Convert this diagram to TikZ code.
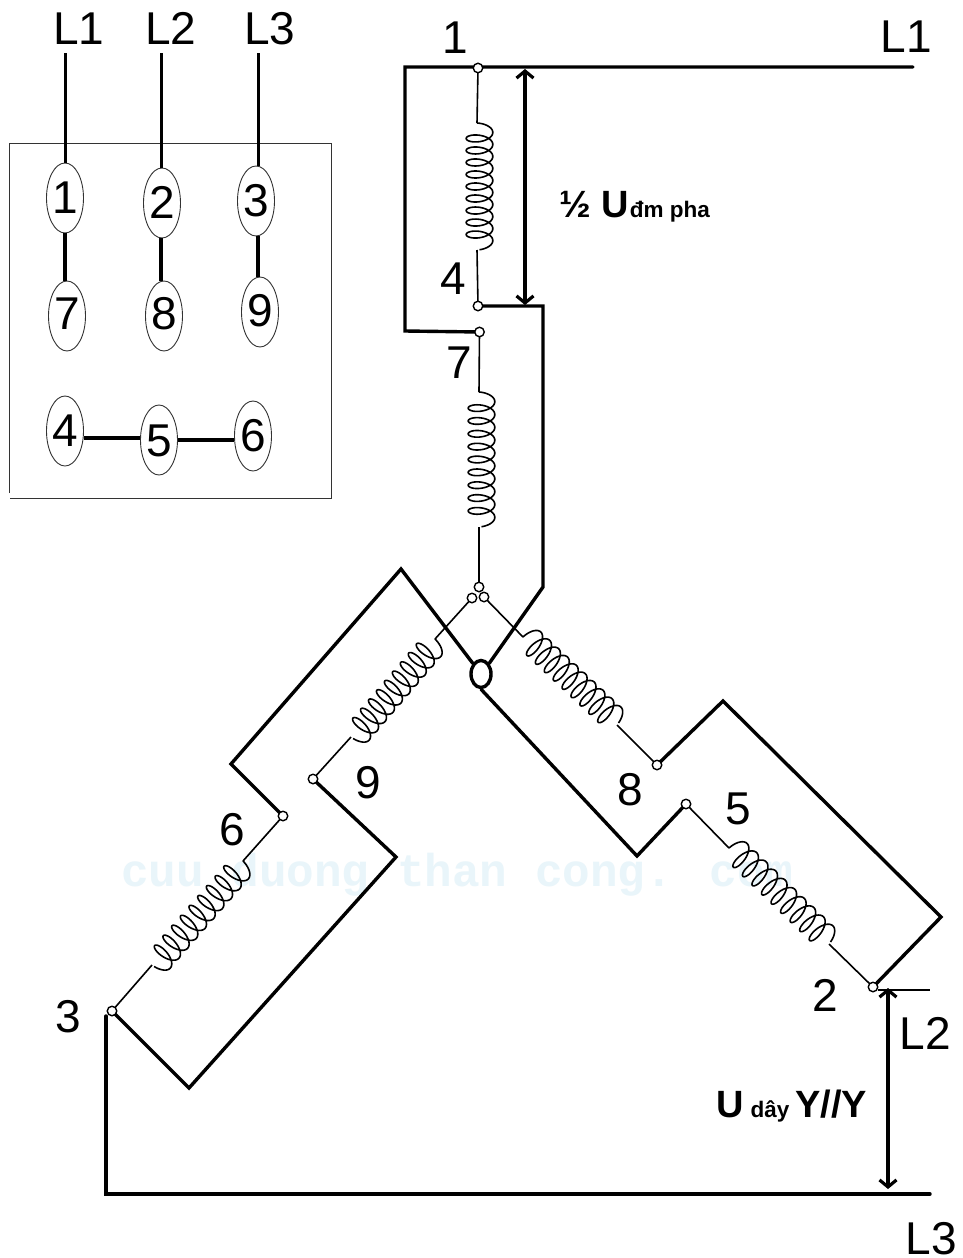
\documentclass[tikz,border=0pt]{standalone}
\usepackage{fontspec}
\setmainfont{Liberation Sans}
\newfontfamily\wmfont{Liberation Mono}
\usetikzlibrary{shapes.geometric,arrows.meta}
\definecolor{wm}{HTML}{E9F5FA}
\tikzset{
  thick wire/.style={line width=3.4pt,line cap=round,line join=miter},
  thin wire/.style={line width=1.6pt},
  term/.style={circle,draw=black,fill=white,line width=1.4pt,minimum size=9.5pt,inner sep=0pt},
  port/.style={ellipse,draw=black!80,line width=0.9pt,minimum width=37pt,minimum height=70pt,inner sep=0pt,text height=32pt,text depth=2pt,font=\fontsize{46}{46}\selectfont},
  lbl/.style={inner sep=0pt,text height=32pt,text depth=0pt,font=\fontsize{46}{46}\selectfont},
  dim/.style={line width=3.2pt,{Straight Barb[length=7pt,width=17pt,line width=3.2pt]}-{Straight Barb[length=7pt,width=17pt,line width=3.2pt]}},
  bold lbl/.style={inner sep=0pt,anchor=base west,font=\bfseries\fontsize{38}{38}\selectfont},
}
\newcommand{\smb}[1]{{\fontsize{22.5}{22.5}\selectfont #1}}
% \coilpath{xa}{ya}{xb}{yb}: helical winding between two points
\newcommand{\coilpath}[4]{%
  \pgfmathsetmacro{\cL}{veclen(#3-#1,#4-#2)}%
  \pgfmathsetmacro{\cax}{(#3-#1)/\cL}%
  \pgfmathsetmacro{\cay}{(#4-#2)/\cL}%
  \pgfmathsetmacro{\cp}{(\cL-1.964*6.2)/9.56}%
  \draw[thin wire,smooth] plot[samples=520,domain=-1.7608:58.12,variable=\t]
    ({#1+\cax*(\cp*(\t+1.7608)/6.2832+6.2*(sin(\t r)+0.982))+\cay*(2.5+13.3*cos(\t r))},
     {#2+\cay*(\cp*(\t+1.7608)/6.2832+6.2*(sin(\t r)+0.982))-\cax*(2.5+13.3*cos(\t r))});
}
\begin{document}
\begin{tikzpicture}[x=1pt,y=-1pt]
\useasboundingbox (0,0) rectangle (962,1258);
\fill[white] (0,0) rectangle (962,1258);
\node[inner sep=0pt,text=wm,anchor=center,font=\wmfont\bfseries\fontsize{46}{46}\selectfont] (wmark) at (457,875) {cuu duong than cong. com};

% terminal box
\draw[line width=0.9pt,black!80] (9.5,493) -- (9.5,143) -- (331.5,143) -- (331.5,498) -- (9.5,498);
\node[port] (e1) at (65,198) {1};
\node[port] (e2) at (162,203) {2};
\node[port] (e3) at (256,201) {3};
\node[port,text depth=6pt] (e7) at (67,316) {7};
\node[port,text depth=6pt] (e8) at (164,316) {8};
\node[port,text depth=4pt] (e9) at (260,312) {9};
\node[port] (e4) at (65,431) {4};
\node[port,text depth=0pt] (e5) at (159,440) {5};
\node[port] (e6) at (253,436) {6};
\node[lbl] (tL1) at (79,28) {L1};
\node[lbl] (tL2) at (171,28) {L2};
\node[lbl] (tL3) at (270,28) {L3};
\coordinate (a1) at (65,53);
\coordinate (a2) at (161,53);
\coordinate (a3) at (258,53);
\coordinate (b4) at (84,438);
\draw[line width=3pt] (a1) -- (a1 |- e1.north);
\draw[line width=3pt] (a2) -- (a2 |- e2.north);
\draw[line width=3pt] (a3) -- (a3 |- e3.north);
\draw[line width=4.6pt] (a1 |- e1.south) -- (a1 |- e7.north);
\draw[line width=4.6pt] (a2 |- e2.south) -- (a2 |- e8.north);
\draw[line width=4.2pt] (a3 |- e3.south) -- (a3 |- e9.north);
\draw[line width=4pt] (b4) -- (b4 -| e5.west);
\draw[line width=4pt] (e5.east) -- (e5.east -| e6.west);

% winding junction coordinates
\coordinate (c1a) at (477,123); \coordinate (c1b) at (477,250);
\coordinate (c7a) at (479,392); \coordinate (c7b) at (479,527);
\coordinate (c8a) at (523,637); \coordinate (c8b) at (617,725);
\coordinate (c5a) at (729,848); \coordinate (c5b) at (829,944);
\coordinate (c9a) at (435,639); \coordinate (c9b) at (351,737);
\coordinate (c6a) at (243,861); \coordinate (c6b) at (152,965);

% terminals
\coordinate (t1) at (478,68);
\coordinate (t4) at (478,306);
\coordinate (t7) at (479.5,332);
\coordinate (t0a) at (479,587);
\coordinate (t0b) at (472,598);
\coordinate (t0c) at (484,597);
\coordinate (t8) at (657,765);
\coordinate (t5) at (686,804);
\coordinate (t2) at (873,987);
\coordinate (t9) at (313,779);
\coordinate (t6) at (283,816);
\coordinate (t3) at (112,1011);
\node[ellipse,draw=black,line width=3.4pt,minimum width=20pt,minimum height=27pt,inner sep=0pt] (oo) at (481,674) {};

% thick wires
\coordinate (w1) at (913,67);
\coordinate (w2) at (405,67);
\coordinate (w3) at (405,331);
\draw[thick wire] (w1) -- (w2) -- (w3) -- (t7);
\draw[thick wire] (t4) -- (543,306) -- (543,587) -- (oo.north east);
\draw[thick wire] (t6) -- (231,764) -- (401,569) -- (oo.north west);
\draw[thick wire] (oo.south) -- (637,856) -- (t5);
\draw[thick wire] (t8) -- (723,701) -- (941,917) -- (t2);
\draw[thick wire] (t9) -- (396,857) -- (189,1088) -- (t3);
\coordinate (w4) at (106,1016);
\coordinate (w5) at (106,1194);
\coordinate (w6) at (930,1194);
\draw[thick wire] (w4) -- (w5) -- (w6);
\coordinate (w7) at (878,990);
\coordinate (w8) at (930,990);
\draw[line width=2.4pt] (w7) -- (w8);

% leads
\draw[thin wire] (t1) -- (c1a); \draw[thin wire] (c1b) -- (t4);
\draw[thin wire] (t7) -- (c7a); \draw[thin wire] (c7b) -- (t0a);
\draw[thin wire] (t0c) -- (c8a); \draw[thin wire] (c8b) -- (t8);
\draw[thin wire] (t5) -- (c5a); \draw[thin wire] (c5b) -- (t2);
\draw[thin wire] (t0b) -- (c9a); \draw[thin wire] (c9b) -- (t9);
\draw[thin wire] (t6) -- (c6a); \draw[thin wire] (c6b) -- (t3);

% windings
\coilpath{477}{123}{477}{250}
\coilpath{479}{392}{479}{527}
\coilpath{523}{637}{617}{725}
\coilpath{729}{848}{829}{944}
\coilpath{435}{639}{351}{737}
\coilpath{243}{861}{152}{965}

% terminal dots
\foreach \q/\n in {t1/d1,t4/d4,t7/d7,t0a/d0a,t0b/d0b,t0c/d0c,t8/d8,t5/d5,t2/d2,t9/d9,t6/d6,t3/d3}
  \node[term] (\n) at (\q) {};

% dimension arrows
\coordinate (u1) at (525,69);
\coordinate (u2) at (525,305);
\coordinate (v1) at (888,988);
\coordinate (v2) at (888,1189);
\draw[dim] (u1) -- (u2);
\draw[dim] (v1) -- (v2);

% labels
\node[lbl] (n1) at (455,37) {1};
\node[lbl] (nL1) at (906,36) {L1};
\node[lbl] (n4) at (453,278) {4};
\node[lbl] (n7) at (459,362) {7};
\node[lbl] (n9) at (368,782) {9};
\node[lbl] (n8) at (630,789) {8};
\node[lbl] (n5) at (738,808) {5};
\node[lbl] (n6) at (232,829) {6};
\node[lbl] (n3) at (68,1016) {3};
\node[lbl] (n2) at (825,995) {2};
\node[lbl] (nL2) at (925,1033) {L2};
\node[lbl] (nL3) at (931,1238) {L3};
\node[bold lbl] (half) at (559,217) {½ U\hspace{1pt}\smb{đm pha}};
\node[bold lbl] (line) at (716,1117) {U\hspace{7pt}\smb{dây}\hspace{6pt}Y//Y};
\end{tikzpicture}
\end{document}
